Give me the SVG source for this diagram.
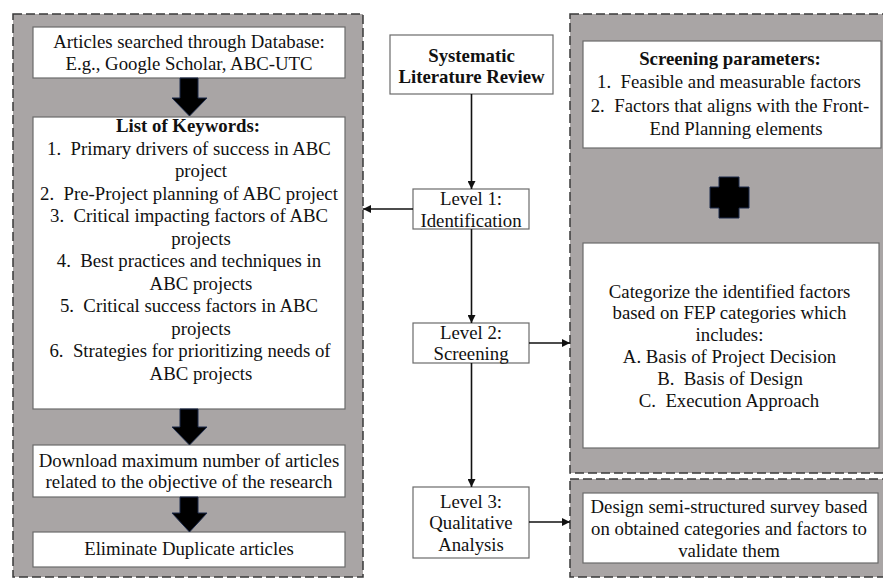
<svg xmlns="http://www.w3.org/2000/svg" width="883" height="579" viewBox="0 0 883 579">
<style>
.panel{fill:#a9a5a5;stroke:#3a3a3a;stroke-width:1.5;stroke-dasharray:9 4}
.box{fill:#ffffff;stroke:#6b6b6b;stroke-width:1.2}
.t{font-family:"Liberation Serif","Times New Roman",serif;font-size:18.8px;fill:#111;text-anchor:middle}
.b{font-weight:bold}
.blk{fill:#000;stroke:#1c2a4a;stroke-width:1}
.con{stroke:#111;stroke-width:1.6;fill:none;marker-end:url(#ah)}
</style>
<defs>
<marker id="ah" viewBox="0 0 10 10" refX="10" refY="5" markerWidth="5" markerHeight="5" orient="auto" markerUnits="strokeWidth">
<path d="M0,0 L10,5 L0,10 Z" fill="#111"/>
</marker>
</defs>
<rect width="883" height="579" fill="#ffffff"/>

<g id="panel-left">
<rect class="panel" x="13" y="14" width="350" height="563"/>
</g>
<g id="panel-right-top">
<rect class="panel" x="570" y="14" width="330" height="459"/>
</g>
<g id="panel-right-bottom">
<rect class="panel" x="570" y="479" width="330" height="98"/>
</g>

<g id="articles-searched">
<rect class="box" x="33" y="27" width="312" height="51"/>
<text class="t" x="189" y="48">Articles searched through Database:</text>
<text class="t" x="189" y="70">E.g., Google Scholar, ABC-UTC</text>
</g>

<g id="keywords">
<rect class="box" x="33" y="117" width="312" height="292"/>
<text class="t b" x="188" y="132">List of Keywords:</text>
<text class="t" x="189" y="154.5" xml:space="preserve">1.  Primary drivers of success in ABC</text>
<text class="t" x="201" y="177">project</text>
<text class="t" x="189" y="199.5" xml:space="preserve">2.  Pre-Project planning of ABC project</text>
<text class="t" x="189" y="222" xml:space="preserve">3.  Critical impacting factors of ABC</text>
<text class="t" x="201" y="244.5">projects</text>
<text class="t" x="189" y="267" xml:space="preserve">4.  Best practices and techniques in</text>
<text class="t" x="201" y="289.5">ABC projects</text>
<text class="t" x="189" y="312" xml:space="preserve">5.  Critical success factors in ABC</text>
<text class="t" x="201" y="334.5">projects</text>
<text class="t" x="190" y="357" xml:space="preserve">6.  Strategies for prioritizing needs of</text>
<text class="t" x="201" y="379.5">ABC projects</text>
</g>

<g id="download">
<rect class="box" x="33" y="445" width="312" height="52"/>
<text class="t" x="189" y="467">Download maximum number of articles</text>
<text class="t" x="189" y="488">related to the objective of the research</text>
</g>

<g id="eliminate">
<rect class="box" x="33" y="532" width="312" height="35"/>
<text class="t" x="189" y="555">Eliminate Duplicate articles</text>
</g>

<g id="block-arrows">
<path class="blk" d="M180,78 H198 V98 H207 L189.5,116 L172,98 H180 Z"/>
<path class="blk" d="M180,409 H198 V427 H207 L189.5,445 L172,427 H180 Z"/>
<path class="blk" d="M180,497 H198 V513 H207 L189.5,532 L172,513 H180 Z"/>
</g>

<g id="slr">
<rect class="box" x="390" y="35" width="163" height="59"/>
<text class="t b" x="471.5" y="62">Systematic</text>
<text class="t b" x="471.5" y="83">Literature Review</text>
</g>

<g id="level1">
<rect class="box" x="413" y="189" width="116" height="40"/>
<text class="t" x="471" y="205">Level 1:</text>
<text class="t" x="471" y="227">Identification</text>
</g>

<g id="level2">
<rect class="box" x="413" y="323" width="116" height="40"/>
<text class="t" x="471" y="339">Level 2:</text>
<text class="t" x="471" y="360">Screening</text>
</g>

<g id="level3">
<rect class="box" x="413" y="487" width="116" height="71"/>
<text class="t" x="471" y="508">Level 3:</text>
<text class="t" x="471" y="529">Qualitative</text>
<text class="t" x="471" y="551">Analysis</text>
</g>

<g id="screening-parameters">
<rect class="box" x="583" y="41" width="298" height="107"/>
<text class="t b" x="730" y="65">Screening parameters:</text>
<text class="t" x="729" y="88" xml:space="preserve">1.  Feasible and measurable factors</text>
<text class="t" x="730" y="111.5" xml:space="preserve">2.  Factors that aligns with the Front-</text>
<text class="t" x="736" y="135">End Planning elements</text>
</g>

<g id="plus">
<path class="blk" d="M719,177 H739 V187 H749 V208 H739 V218 H719 V208 H710 V187 H719 Z"/>
</g>

<g id="categorize">
<rect class="box" x="583" y="243" width="296" height="205"/>
<text class="t" x="729.5" y="297.5">Categorize the identified factors</text>
<text class="t" x="729.5" y="319">based on FEP categories which</text>
<text class="t" x="729.5" y="341">includes:</text>
<text class="t" x="729.5" y="363">A. Basis of Project Decision</text>
<text class="t" x="730" y="385" xml:space="preserve">B.  Basis of Design</text>
<text class="t" x="729" y="407" xml:space="preserve">C.  Execution Approach</text>
</g>

<g id="design-survey">
<rect class="box" x="583" y="493" width="295" height="70"/>
<text class="t" x="729" y="513">Design semi-structured survey based</text>
<text class="t" x="729" y="535">on obtained categories and factors to</text>
<text class="t" x="729" y="557">validate them</text>
</g>

<g id="connectors">
<line class="con" x1="471.5" y1="94" x2="471.5" y2="189"/>
<line class="con" x1="413" y1="209" x2="363" y2="209"/>
<line class="con" x1="471.5" y1="229" x2="471.5" y2="323"/>
<line class="con" x1="529" y1="343" x2="570" y2="343"/>
<line class="con" x1="471.5" y1="363" x2="471.5" y2="487"/>
<line class="con" x1="529" y1="522" x2="570" y2="522"/>
</g>
</svg>
